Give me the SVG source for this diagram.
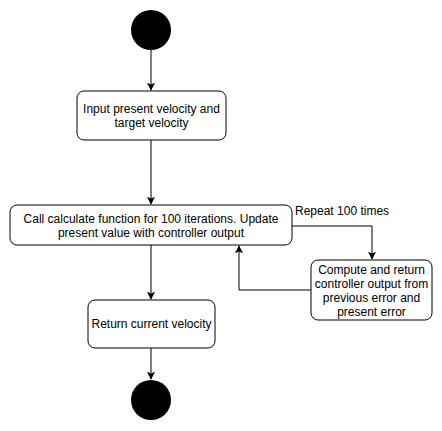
<svg xmlns="http://www.w3.org/2000/svg" width="442" height="431" viewBox="0 0 442 431">
<style>
.node rect{fill:#fff;stroke:#000;stroke-width:1}
.term{fill:#000}
text{font-family:"Liberation Sans",Arial,sans-serif;font-size:12px;fill:#000}
.c{text-anchor:middle}
.edge{fill:none;stroke:#000;stroke-width:1}
</style>
<defs>
<marker id="arr" viewBox="0 0 10 10" refX="9" refY="5" markerWidth="8" markerHeight="8" markerUnits="userSpaceOnUse" orient="auto">
<path d="M0,0 L10,5 L0,10 L2,5 Z" fill="#000"/>
</marker>
</defs>
<rect width="442" height="431" fill="#fff"/>
<g id="connectors">
<path class="edge" d="M151,50 V90" marker-end="url(#arr)"/>
<path class="edge" d="M151,140 V204" marker-end="url(#arr)"/>
<path class="edge" d="M292,226 H372 V259" marker-end="url(#arr)"/>
<path class="edge" d="M311,290 H239 V246" marker-end="url(#arr)"/>
<path class="edge" d="M151,245 V299" marker-end="url(#arr)"/>
<path class="edge" d="M151,348 V379" marker-end="url(#arr)"/>
<text x="295" y="215">Repeat 100 times</text>
</g>
<g id="start"><circle class="term" cx="151" cy="30" r="20"/></g>
<g id="input" class="node">
<rect x="77" y="91" width="149" height="49" rx="7"/>
<text class="c" x="151.5" y="113">Input present velocity and</text>
<text class="c" x="151.5" y="127">target velocity</text>
</g>
<g id="call" class="node">
<rect x="10" y="205" width="282" height="40" rx="7"/>
<text class="c" x="151" y="223">Call calculate function for 100 iterations. Update</text>
<text class="c" x="151" y="237">present value with controller output</text>
</g>
<g id="compute" class="node">
<rect x="311" y="260" width="121" height="60" rx="7"/>
<text class="c" x="371.5" y="274">Compute and return</text>
<text class="c" x="371.5" y="288">controller output from</text>
<text class="c" x="371.5" y="302">previous error and</text>
<text class="c" x="371.5" y="316">present error</text>
</g>
<g id="return" class="node">
<rect x="88" y="300" width="127" height="48" rx="7"/>
<text class="c" x="151.5" y="328">Return current velocity</text>
</g>
<g id="end"><circle class="term" cx="151" cy="400" r="20"/></g>
</svg>
